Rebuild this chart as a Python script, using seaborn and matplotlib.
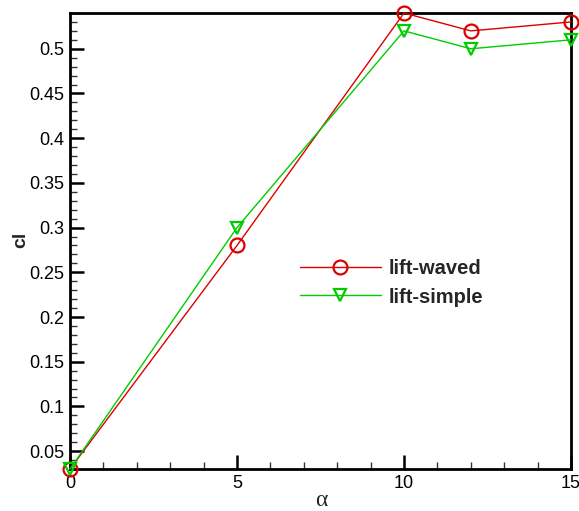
import numpy as np
import pandas as pd
import matplotlib
matplotlib.use("Agg")
import matplotlib.pyplot as plt
import seaborn as sns
from matplotlib.ticker import MultipleLocator

# Lift coefficient against angle of attack
alpha = [0, 5, 10, 12, 15]
cl_waved = [0.03, 0.28, 0.54, 0.52, 0.53]
cl_simple = [0.03, 0.30, 0.52, 0.50, 0.51]
y_ticks = [0.05, 0.1, 0.15, 0.2, 0.25, 0.3, 0.35, 0.4, 0.45, 0.5]
x_ticks = [0, 5, 10, 15]

sns.set_style("white")
plt.rcParams["font.family"] = ["Liberation Sans", "DejaVu Sans"]

df = pd.DataFrame({
    "alpha": alpha * 2,
    "cl": cl_waved + cl_simple,
    "series": ["lift-waved"] * len(alpha) + ["lift-simple"] * len(alpha),
})

fig = plt.figure(figsize=(5.79, 5.11), dpi=100)
ax = fig.add_axes([70 / 579, 1 - 469 / 511, (571 - 70) / 579, (469 - 13) / 511])

styles = {
    "lift-waved": dict(color="#dd0000", marker="o", ms=10),
    "lift-simple": dict(color="#00cc00", marker="v", ms=9),
}
for name, st in styles.items():
    sub = df[df["series"] == name]
    sns.lineplot(data=sub, x="alpha", y="cl", ax=ax, label=name,
                 color=st["color"], marker=st["marker"], markersize=st["ms"],
                 markerfacecolor="none", markeredgecolor=st["color"],
                 markeredgewidth=1.6, linewidth=1.0, clip_on=False, zorder=3)

ax.set_xlim(0, 15)
ax.set_ylim(0.03, 0.54)
ax.set_xticks(x_ticks)
ax.set_yticks(y_ticks)
ax.set_yticklabels([f"{v:g}" for v in y_ticks])
ax.xaxis.set_minor_locator(MultipleLocator(1))
ax.yaxis.set_minor_locator(MultipleLocator(0.01))
ax.tick_params(which="major", direction="in", length=10, width=1.8,
               labelsize=13, bottom=True, left=True, pad=4, colors="black")
ax.tick_params(which="minor", direction="in", length=5, width=1.0,
               bottom=True, left=True, colors="#333333")
for s in ax.spines.values():
    s.set_linewidth(2.0)
    s.set_color("black")

ax.set_xlabel("α", fontsize=17, family="Liberation Serif")
ax.xaxis.set_label_coords(0.501, -0.046)
ax.set_ylabel("cl", fontsize=14, fontweight="bold")
ax.yaxis.set_label_coords(-0.082, 0.502)

ax.legend(loc="center left", bbox_to_anchor=(300 / 579, 1 - 283 / 511),
          bbox_transform=fig.transFigure, frameon=False, borderpad=0,
          borderaxespad=0, handlelength=4.0,
          prop=dict(weight="bold", size=14.5),
          labelspacing=0.45, handletextpad=0.4)

fig.savefig("out.png", dpi=100)
